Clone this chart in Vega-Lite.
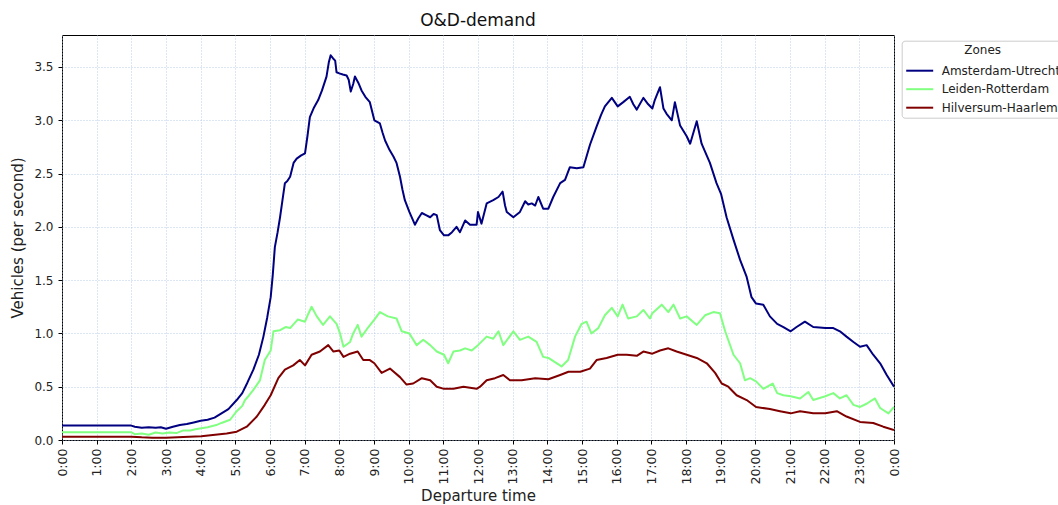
{
  "$schema": "https://vega.github.io/schema/vega-lite/v6.json",
  "width": 832,
  "height": 405,
  "autosize": {"type": "none"},
  "padding": {"left": 62, "top": 35, "right": 164, "bottom": 65},
  "background": "white",
  "config": {
    "font": "DejaVu Sans",
    "view": {"stroke": "#000000", "strokeWidth": 1},
    "axis": {
      "domain": false,
      "tickColor": "#000000",
      "tickSize": 4,
      "labelColor": "#222222",
      "titleColor": "#222222",
      "labelFontSize": 12,
      "titleFontSize": 15,
      "titleFontWeight": "normal",
      "grid": true,
      "gridColor": "#a9bfe3",
      "gridDash": [1, 2],
      "gridWidth": 0.8
    }
  },
  "title": {"text": "O&D-demand", "fontSize": 17, "fontWeight": "normal", "color": "#111111", "anchor": "middle", "offset": 5},
  "data": {"values": [
    {"h":0,"v":0.135,"z":"Amsterdam-Utrecht"},{"h":2.0,"v":0.135,"z":"Amsterdam-Utrecht"},{"h":2.1,"v":0.125,"z":"Amsterdam-Utrecht"},{"h":2.3,"v":0.115,"z":"Amsterdam-Utrecht"},{"h":2.5,"v":0.12,"z":"Amsterdam-Utrecht"},{"h":2.7,"v":0.115,"z":"Amsterdam-Utrecht"},{"h":2.85,"v":0.12,"z":"Amsterdam-Utrecht"},{"h":3.0,"v":0.105,"z":"Amsterdam-Utrecht"},{"h":3.2,"v":0.125,"z":"Amsterdam-Utrecht"},{"h":3.4,"v":0.14,"z":"Amsterdam-Utrecht"},{"h":3.6,"v":0.15,"z":"Amsterdam-Utrecht"},{"h":3.8,"v":0.165,"z":"Amsterdam-Utrecht"},{"h":4.0,"v":0.18,"z":"Amsterdam-Utrecht"},{"h":4.2,"v":0.19,"z":"Amsterdam-Utrecht"},{"h":4.4,"v":0.21,"z":"Amsterdam-Utrecht"},{"h":4.6,"v":0.25,"z":"Amsterdam-Utrecht"},{"h":4.8,"v":0.29,"z":"Amsterdam-Utrecht"},{"h":5.04,"v":0.375,"z":"Amsterdam-Utrecht"},{"h":5.2,"v":0.44,"z":"Amsterdam-Utrecht"},{"h":5.35,"v":0.54,"z":"Amsterdam-Utrecht"},{"h":5.52,"v":0.66,"z":"Amsterdam-Utrecht"},{"h":5.68,"v":0.8,"z":"Amsterdam-Utrecht"},{"h":5.81,"v":0.97,"z":"Amsterdam-Utrecht"},{"h":5.92,"v":1.15,"z":"Amsterdam-Utrecht"},{"h":6.02,"v":1.34,"z":"Amsterdam-Utrecht"},{"h":6.08,"v":1.55,"z":"Amsterdam-Utrecht"},{"h":6.14,"v":1.81,"z":"Amsterdam-Utrecht"},{"h":6.22,"v":1.95,"z":"Amsterdam-Utrecht"},{"h":6.29,"v":2.09,"z":"Amsterdam-Utrecht"},{"h":6.36,"v":2.25,"z":"Amsterdam-Utrecht"},{"h":6.43,"v":2.41,"z":"Amsterdam-Utrecht"},{"h":6.5,"v":2.43,"z":"Amsterdam-Utrecht"},{"h":6.58,"v":2.47,"z":"Amsterdam-Utrecht"},{"h":6.68,"v":2.6,"z":"Amsterdam-Utrecht"},{"h":6.77,"v":2.64,"z":"Amsterdam-Utrecht"},{"h":6.9,"v":2.67,"z":"Amsterdam-Utrecht"},{"h":7.01,"v":2.69,"z":"Amsterdam-Utrecht"},{"h":7.08,"v":2.85,"z":"Amsterdam-Utrecht"},{"h":7.15,"v":3.03,"z":"Amsterdam-Utrecht"},{"h":7.27,"v":3.12,"z":"Amsterdam-Utrecht"},{"h":7.39,"v":3.19,"z":"Amsterdam-Utrecht"},{"h":7.5,"v":3.28,"z":"Amsterdam-Utrecht"},{"h":7.63,"v":3.41,"z":"Amsterdam-Utrecht"},{"h":7.7,"v":3.55,"z":"Amsterdam-Utrecht"},{"h":7.75,"v":3.61,"z":"Amsterdam-Utrecht"},{"h":7.82,"v":3.58,"z":"Amsterdam-Utrecht"},{"h":7.88,"v":3.56,"z":"Amsterdam-Utrecht"},{"h":7.92,"v":3.45,"z":"Amsterdam-Utrecht"},{"h":8.0,"v":3.44,"z":"Amsterdam-Utrecht"},{"h":8.1,"v":3.43,"z":"Amsterdam-Utrecht"},{"h":8.21,"v":3.42,"z":"Amsterdam-Utrecht"},{"h":8.27,"v":3.38,"z":"Amsterdam-Utrecht"},{"h":8.33,"v":3.27,"z":"Amsterdam-Utrecht"},{"h":8.4,"v":3.34,"z":"Amsterdam-Utrecht"},{"h":8.45,"v":3.41,"z":"Amsterdam-Utrecht"},{"h":8.55,"v":3.35,"z":"Amsterdam-Utrecht"},{"h":8.64,"v":3.28,"z":"Amsterdam-Utrecht"},{"h":8.75,"v":3.22,"z":"Amsterdam-Utrecht"},{"h":8.88,"v":3.17,"z":"Amsterdam-Utrecht"},{"h":9.01,"v":3.0,"z":"Amsterdam-Utrecht"},{"h":9.17,"v":2.97,"z":"Amsterdam-Utrecht"},{"h":9.25,"v":2.88,"z":"Amsterdam-Utrecht"},{"h":9.32,"v":2.81,"z":"Amsterdam-Utrecht"},{"h":9.45,"v":2.72,"z":"Amsterdam-Utrecht"},{"h":9.56,"v":2.66,"z":"Amsterdam-Utrecht"},{"h":9.65,"v":2.6,"z":"Amsterdam-Utrecht"},{"h":9.75,"v":2.47,"z":"Amsterdam-Utrecht"},{"h":9.82,"v":2.35,"z":"Amsterdam-Utrecht"},{"h":9.89,"v":2.25,"z":"Amsterdam-Utrecht"},{"h":10.02,"v":2.14,"z":"Amsterdam-Utrecht"},{"h":10.18,"v":2.02,"z":"Amsterdam-Utrecht"},{"h":10.28,"v":2.08,"z":"Amsterdam-Utrecht"},{"h":10.38,"v":2.13,"z":"Amsterdam-Utrecht"},{"h":10.5,"v":2.11,"z":"Amsterdam-Utrecht"},{"h":10.62,"v":2.09,"z":"Amsterdam-Utrecht"},{"h":10.72,"v":2.12,"z":"Amsterdam-Utrecht"},{"h":10.81,"v":2.11,"z":"Amsterdam-Utrecht"},{"h":10.9,"v":1.97,"z":"Amsterdam-Utrecht"},{"h":11.02,"v":1.92,"z":"Amsterdam-Utrecht"},{"h":11.14,"v":1.92,"z":"Amsterdam-Utrecht"},{"h":11.25,"v":1.95,"z":"Amsterdam-Utrecht"},{"h":11.38,"v":2.0,"z":"Amsterdam-Utrecht"},{"h":11.48,"v":1.95,"z":"Amsterdam-Utrecht"},{"h":11.63,"v":2.06,"z":"Amsterdam-Utrecht"},{"h":11.77,"v":2.02,"z":"Amsterdam-Utrecht"},{"h":11.96,"v":2.02,"z":"Amsterdam-Utrecht"},{"h":12.0,"v":2.14,"z":"Amsterdam-Utrecht"},{"h":12.1,"v":2.03,"z":"Amsterdam-Utrecht"},{"h":12.25,"v":2.22,"z":"Amsterdam-Utrecht"},{"h":12.44,"v":2.25,"z":"Amsterdam-Utrecht"},{"h":12.59,"v":2.28,"z":"Amsterdam-Utrecht"},{"h":12.71,"v":2.33,"z":"Amsterdam-Utrecht"},{"h":12.78,"v":2.2,"z":"Amsterdam-Utrecht"},{"h":12.83,"v":2.14,"z":"Amsterdam-Utrecht"},{"h":13.02,"v":2.09,"z":"Amsterdam-Utrecht"},{"h":13.21,"v":2.14,"z":"Amsterdam-Utrecht"},{"h":13.36,"v":2.24,"z":"Amsterdam-Utrecht"},{"h":13.45,"v":2.21,"z":"Amsterdam-Utrecht"},{"h":13.55,"v":2.22,"z":"Amsterdam-Utrecht"},{"h":13.65,"v":2.2,"z":"Amsterdam-Utrecht"},{"h":13.74,"v":2.28,"z":"Amsterdam-Utrecht"},{"h":13.88,"v":2.17,"z":"Amsterdam-Utrecht"},{"h":14.03,"v":2.17,"z":"Amsterdam-Utrecht"},{"h":14.17,"v":2.28,"z":"Amsterdam-Utrecht"},{"h":14.37,"v":2.41,"z":"Amsterdam-Utrecht"},{"h":14.51,"v":2.44,"z":"Amsterdam-Utrecht"},{"h":14.65,"v":2.56,"z":"Amsterdam-Utrecht"},{"h":14.85,"v":2.55,"z":"Amsterdam-Utrecht"},{"h":15.04,"v":2.56,"z":"Amsterdam-Utrecht"},{"h":15.23,"v":2.77,"z":"Amsterdam-Utrecht"},{"h":15.42,"v":2.94,"z":"Amsterdam-Utrecht"},{"h":15.55,"v":3.05,"z":"Amsterdam-Utrecht"},{"h":15.66,"v":3.13,"z":"Amsterdam-Utrecht"},{"h":15.86,"v":3.21,"z":"Amsterdam-Utrecht"},{"h":16.03,"v":3.13,"z":"Amsterdam-Utrecht"},{"h":16.19,"v":3.17,"z":"Amsterdam-Utrecht"},{"h":16.38,"v":3.22,"z":"Amsterdam-Utrecht"},{"h":16.48,"v":3.15,"z":"Amsterdam-Utrecht"},{"h":16.58,"v":3.1,"z":"Amsterdam-Utrecht"},{"h":16.77,"v":3.21,"z":"Amsterdam-Utrecht"},{"h":16.91,"v":3.15,"z":"Amsterdam-Utrecht"},{"h":17.03,"v":3.11,"z":"Amsterdam-Utrecht"},{"h":17.1,"v":3.19,"z":"Amsterdam-Utrecht"},{"h":17.25,"v":3.31,"z":"Amsterdam-Utrecht"},{"h":17.35,"v":3.11,"z":"Amsterdam-Utrecht"},{"h":17.44,"v":3.06,"z":"Amsterdam-Utrecht"},{"h":17.59,"v":3.0,"z":"Amsterdam-Utrecht"},{"h":17.68,"v":3.17,"z":"Amsterdam-Utrecht"},{"h":17.83,"v":2.95,"z":"Amsterdam-Utrecht"},{"h":18.02,"v":2.85,"z":"Amsterdam-Utrecht"},{"h":18.12,"v":2.78,"z":"Amsterdam-Utrecht"},{"h":18.31,"v":2.99,"z":"Amsterdam-Utrecht"},{"h":18.45,"v":2.78,"z":"Amsterdam-Utrecht"},{"h":18.69,"v":2.6,"z":"Amsterdam-Utrecht"},{"h":18.88,"v":2.41,"z":"Amsterdam-Utrecht"},{"h":19.01,"v":2.31,"z":"Amsterdam-Utrecht"},{"h":19.17,"v":2.09,"z":"Amsterdam-Utrecht"},{"h":19.37,"v":1.88,"z":"Amsterdam-Utrecht"},{"h":19.56,"v":1.69,"z":"Amsterdam-Utrecht"},{"h":19.75,"v":1.53,"z":"Amsterdam-Utrecht"},{"h":19.89,"v":1.34,"z":"Amsterdam-Utrecht"},{"h":20.02,"v":1.28,"z":"Amsterdam-Utrecht"},{"h":20.23,"v":1.27,"z":"Amsterdam-Utrecht"},{"h":20.42,"v":1.16,"z":"Amsterdam-Utrecht"},{"h":20.63,"v":1.09,"z":"Amsterdam-Utrecht"},{"h":20.81,"v":1.06,"z":"Amsterdam-Utrecht"},{"h":21.02,"v":1.02,"z":"Amsterdam-Utrecht"},{"h":21.19,"v":1.06,"z":"Amsterdam-Utrecht"},{"h":21.43,"v":1.11,"z":"Amsterdam-Utrecht"},{"h":21.67,"v":1.06,"z":"Amsterdam-Utrecht"},{"h":22.02,"v":1.05,"z":"Amsterdam-Utrecht"},{"h":22.25,"v":1.05,"z":"Amsterdam-Utrecht"},{"h":22.44,"v":1.02,"z":"Amsterdam-Utrecht"},{"h":22.63,"v":0.97,"z":"Amsterdam-Utrecht"},{"h":22.83,"v":0.92,"z":"Amsterdam-Utrecht"},{"h":23.02,"v":0.875,"z":"Amsterdam-Utrecht"},{"h":23.21,"v":0.89,"z":"Amsterdam-Utrecht"},{"h":23.4,"v":0.8,"z":"Amsterdam-Utrecht"},{"h":23.6,"v":0.72,"z":"Amsterdam-Utrecht"},{"h":23.79,"v":0.61,"z":"Amsterdam-Utrecht"},{"h":24.0,"v":0.5,"z":"Amsterdam-Utrecht"},

    {"h":0,"v":0.072,"z":"Leiden-Rotterdam"},{"h":2.0,"v":0.072,"z":"Leiden-Rotterdam"},{"h":2.1,"v":0.055,"z":"Leiden-Rotterdam"},{"h":2.3,"v":0.06,"z":"Leiden-Rotterdam"},{"h":2.5,"v":0.05,"z":"Leiden-Rotterdam"},{"h":2.7,"v":0.07,"z":"Leiden-Rotterdam"},{"h":2.9,"v":0.06,"z":"Leiden-Rotterdam"},{"h":3.1,"v":0.07,"z":"Leiden-Rotterdam"},{"h":3.3,"v":0.065,"z":"Leiden-Rotterdam"},{"h":3.5,"v":0.09,"z":"Leiden-Rotterdam"},{"h":3.7,"v":0.09,"z":"Leiden-Rotterdam"},{"h":3.85,"v":0.1,"z":"Leiden-Rotterdam"},{"h":4.02,"v":0.11,"z":"Leiden-Rotterdam"},{"h":4.2,"v":0.12,"z":"Leiden-Rotterdam"},{"h":4.45,"v":0.14,"z":"Leiden-Rotterdam"},{"h":4.6,"v":0.16,"z":"Leiden-Rotterdam"},{"h":4.85,"v":0.19,"z":"Leiden-Rotterdam"},{"h":5.04,"v":0.27,"z":"Leiden-Rotterdam"},{"h":5.2,"v":0.32,"z":"Leiden-Rotterdam"},{"h":5.28,"v":0.375,"z":"Leiden-Rotterdam"},{"h":5.4,"v":0.42,"z":"Leiden-Rotterdam"},{"h":5.52,"v":0.47,"z":"Leiden-Rotterdam"},{"h":5.71,"v":0.56,"z":"Leiden-Rotterdam"},{"h":5.85,"v":0.75,"z":"Leiden-Rotterdam"},{"h":6.02,"v":0.84,"z":"Leiden-Rotterdam"},{"h":6.1,"v":1.02,"z":"Leiden-Rotterdam"},{"h":6.29,"v":1.03,"z":"Leiden-Rotterdam"},{"h":6.45,"v":1.06,"z":"Leiden-Rotterdam"},{"h":6.58,"v":1.05,"z":"Leiden-Rotterdam"},{"h":6.8,"v":1.13,"z":"Leiden-Rotterdam"},{"h":7.01,"v":1.11,"z":"Leiden-Rotterdam"},{"h":7.1,"v":1.18,"z":"Leiden-Rotterdam"},{"h":7.2,"v":1.25,"z":"Leiden-Rotterdam"},{"h":7.35,"v":1.16,"z":"Leiden-Rotterdam"},{"h":7.53,"v":1.08,"z":"Leiden-Rotterdam"},{"h":7.73,"v":1.16,"z":"Leiden-Rotterdam"},{"h":7.92,"v":1.09,"z":"Leiden-Rotterdam"},{"h":8.02,"v":1.0,"z":"Leiden-Rotterdam"},{"h":8.12,"v":0.875,"z":"Leiden-Rotterdam"},{"h":8.31,"v":0.92,"z":"Leiden-Rotterdam"},{"h":8.4,"v":1.0,"z":"Leiden-Rotterdam"},{"h":8.53,"v":1.08,"z":"Leiden-Rotterdam"},{"h":8.64,"v":0.97,"z":"Leiden-Rotterdam"},{"h":8.84,"v":1.06,"z":"Leiden-Rotterdam"},{"h":9.01,"v":1.13,"z":"Leiden-Rotterdam"},{"h":9.17,"v":1.2,"z":"Leiden-Rotterdam"},{"h":9.4,"v":1.16,"z":"Leiden-Rotterdam"},{"h":9.65,"v":1.14,"z":"Leiden-Rotterdam"},{"h":9.8,"v":1.02,"z":"Leiden-Rotterdam"},{"h":10.02,"v":1.0,"z":"Leiden-Rotterdam"},{"h":10.23,"v":0.89,"z":"Leiden-Rotterdam"},{"h":10.42,"v":0.94,"z":"Leiden-Rotterdam"},{"h":10.62,"v":0.89,"z":"Leiden-Rotterdam"},{"h":10.81,"v":0.83,"z":"Leiden-Rotterdam"},{"h":11.02,"v":0.8,"z":"Leiden-Rotterdam"},{"h":11.14,"v":0.72,"z":"Leiden-Rotterdam"},{"h":11.29,"v":0.83,"z":"Leiden-Rotterdam"},{"h":11.48,"v":0.84,"z":"Leiden-Rotterdam"},{"h":11.63,"v":0.86,"z":"Leiden-Rotterdam"},{"h":11.82,"v":0.84,"z":"Leiden-Rotterdam"},{"h":12.0,"v":0.89,"z":"Leiden-Rotterdam"},{"h":12.25,"v":0.97,"z":"Leiden-Rotterdam"},{"h":12.44,"v":0.95,"z":"Leiden-Rotterdam"},{"h":12.59,"v":1.02,"z":"Leiden-Rotterdam"},{"h":12.73,"v":0.89,"z":"Leiden-Rotterdam"},{"h":13.02,"v":1.02,"z":"Leiden-Rotterdam"},{"h":13.21,"v":0.94,"z":"Leiden-Rotterdam"},{"h":13.45,"v":0.97,"z":"Leiden-Rotterdam"},{"h":13.69,"v":0.92,"z":"Leiden-Rotterdam"},{"h":13.88,"v":0.78,"z":"Leiden-Rotterdam"},{"h":14.03,"v":0.77,"z":"Leiden-Rotterdam"},{"h":14.22,"v":0.73,"z":"Leiden-Rotterdam"},{"h":14.41,"v":0.69,"z":"Leiden-Rotterdam"},{"h":14.6,"v":0.75,"z":"Leiden-Rotterdam"},{"h":14.8,"v":0.97,"z":"Leiden-Rotterdam"},{"h":14.99,"v":1.09,"z":"Leiden-Rotterdam"},{"h":15.13,"v":1.11,"z":"Leiden-Rotterdam"},{"h":15.27,"v":1.0,"z":"Leiden-Rotterdam"},{"h":15.47,"v":1.05,"z":"Leiden-Rotterdam"},{"h":15.66,"v":1.17,"z":"Leiden-Rotterdam"},{"h":15.86,"v":1.24,"z":"Leiden-Rotterdam"},{"h":16.03,"v":1.16,"z":"Leiden-Rotterdam"},{"h":16.17,"v":1.27,"z":"Leiden-Rotterdam"},{"h":16.33,"v":1.14,"z":"Leiden-Rotterdam"},{"h":16.58,"v":1.16,"z":"Leiden-Rotterdam"},{"h":16.77,"v":1.22,"z":"Leiden-Rotterdam"},{"h":16.96,"v":1.14,"z":"Leiden-Rotterdam"},{"h":17.03,"v":1.19,"z":"Leiden-Rotterdam"},{"h":17.3,"v":1.27,"z":"Leiden-Rotterdam"},{"h":17.49,"v":1.2,"z":"Leiden-Rotterdam"},{"h":17.64,"v":1.27,"z":"Leiden-Rotterdam"},{"h":17.83,"v":1.14,"z":"Leiden-Rotterdam"},{"h":18.02,"v":1.16,"z":"Leiden-Rotterdam"},{"h":18.31,"v":1.08,"z":"Leiden-Rotterdam"},{"h":18.55,"v":1.17,"z":"Leiden-Rotterdam"},{"h":18.79,"v":1.2,"z":"Leiden-Rotterdam"},{"h":18.98,"v":1.19,"z":"Leiden-Rotterdam"},{"h":19.13,"v":1.02,"z":"Leiden-Rotterdam"},{"h":19.37,"v":0.8,"z":"Leiden-Rotterdam"},{"h":19.56,"v":0.72,"z":"Leiden-Rotterdam"},{"h":19.7,"v":0.56,"z":"Leiden-Rotterdam"},{"h":19.85,"v":0.58,"z":"Leiden-Rotterdam"},{"h":20.02,"v":0.55,"z":"Leiden-Rotterdam"},{"h":20.23,"v":0.48,"z":"Leiden-Rotterdam"},{"h":20.5,"v":0.53,"z":"Leiden-Rotterdam"},{"h":20.63,"v":0.44,"z":"Leiden-Rotterdam"},{"h":20.81,"v":0.42,"z":"Leiden-Rotterdam"},{"h":21.02,"v":0.41,"z":"Leiden-Rotterdam"},{"h":21.29,"v":0.39,"z":"Leiden-Rotterdam"},{"h":21.53,"v":0.45,"z":"Leiden-Rotterdam"},{"h":21.67,"v":0.375,"z":"Leiden-Rotterdam"},{"h":22.02,"v":0.41,"z":"Leiden-Rotterdam"},{"h":22.25,"v":0.44,"z":"Leiden-Rotterdam"},{"h":22.44,"v":0.39,"z":"Leiden-Rotterdam"},{"h":22.63,"v":0.42,"z":"Leiden-Rotterdam"},{"h":22.83,"v":0.33,"z":"Leiden-Rotterdam"},{"h":23.02,"v":0.31,"z":"Leiden-Rotterdam"},{"h":23.21,"v":0.34,"z":"Leiden-Rotterdam"},{"h":23.45,"v":0.39,"z":"Leiden-Rotterdam"},{"h":23.6,"v":0.3,"z":"Leiden-Rotterdam"},{"h":23.84,"v":0.25,"z":"Leiden-Rotterdam"},{"h":24.0,"v":0.31,"z":"Leiden-Rotterdam"},

    {"h":0,"v":0.031,"z":"Hilversum-Haarlem"},{"h":2.0,"v":0.031,"z":"Hilversum-Haarlem"},{"h":2.3,"v":0.025,"z":"Hilversum-Haarlem"},{"h":2.6,"v":0.022,"z":"Hilversum-Haarlem"},{"h":3.0,"v":0.02,"z":"Hilversum-Haarlem"},{"h":3.5,"v":0.028,"z":"Hilversum-Haarlem"},{"h":4.02,"v":0.035,"z":"Hilversum-Haarlem"},{"h":4.75,"v":0.06,"z":"Hilversum-Haarlem"},{"h":5.04,"v":0.078,"z":"Hilversum-Haarlem"},{"h":5.33,"v":0.125,"z":"Hilversum-Haarlem"},{"h":5.62,"v":0.22,"z":"Hilversum-Haarlem"},{"h":5.85,"v":0.33,"z":"Hilversum-Haarlem"},{"h":6.02,"v":0.42,"z":"Hilversum-Haarlem"},{"h":6.24,"v":0.58,"z":"Hilversum-Haarlem"},{"h":6.43,"v":0.66,"z":"Hilversum-Haarlem"},{"h":6.67,"v":0.7,"z":"Hilversum-Haarlem"},{"h":6.86,"v":0.75,"z":"Hilversum-Haarlem"},{"h":7.01,"v":0.7,"z":"Hilversum-Haarlem"},{"h":7.2,"v":0.8,"z":"Hilversum-Haarlem"},{"h":7.44,"v":0.83,"z":"Hilversum-Haarlem"},{"h":7.68,"v":0.89,"z":"Hilversum-Haarlem"},{"h":7.83,"v":0.83,"z":"Hilversum-Haarlem"},{"h":8.0,"v":0.84,"z":"Hilversum-Haarlem"},{"h":8.12,"v":0.78,"z":"Hilversum-Haarlem"},{"h":8.31,"v":0.81,"z":"Hilversum-Haarlem"},{"h":8.53,"v":0.83,"z":"Hilversum-Haarlem"},{"h":8.69,"v":0.75,"z":"Hilversum-Haarlem"},{"h":8.88,"v":0.75,"z":"Hilversum-Haarlem"},{"h":9.01,"v":0.72,"z":"Hilversum-Haarlem"},{"h":9.22,"v":0.63,"z":"Hilversum-Haarlem"},{"h":9.46,"v":0.67,"z":"Hilversum-Haarlem"},{"h":9.75,"v":0.59,"z":"Hilversum-Haarlem"},{"h":9.94,"v":0.52,"z":"Hilversum-Haarlem"},{"h":10.13,"v":0.53,"z":"Hilversum-Haarlem"},{"h":10.38,"v":0.58,"z":"Hilversum-Haarlem"},{"h":10.62,"v":0.56,"z":"Hilversum-Haarlem"},{"h":10.81,"v":0.5,"z":"Hilversum-Haarlem"},{"h":11.02,"v":0.48,"z":"Hilversum-Haarlem"},{"h":11.29,"v":0.48,"z":"Hilversum-Haarlem"},{"h":11.58,"v":0.5,"z":"Hilversum-Haarlem"},{"h":11.96,"v":0.48,"z":"Hilversum-Haarlem"},{"h":12.06,"v":0.5,"z":"Hilversum-Haarlem"},{"h":12.25,"v":0.56,"z":"Hilversum-Haarlem"},{"h":12.49,"v":0.58,"z":"Hilversum-Haarlem"},{"h":12.73,"v":0.61,"z":"Hilversum-Haarlem"},{"h":12.92,"v":0.56,"z":"Hilversum-Haarlem"},{"h":13.26,"v":0.56,"z":"Hilversum-Haarlem"},{"h":13.65,"v":0.58,"z":"Hilversum-Haarlem"},{"h":14.03,"v":0.57,"z":"Hilversum-Haarlem"},{"h":14.37,"v":0.61,"z":"Hilversum-Haarlem"},{"h":14.61,"v":0.64,"z":"Hilversum-Haarlem"},{"h":14.95,"v":0.64,"z":"Hilversum-Haarlem"},{"h":15.23,"v":0.67,"z":"Hilversum-Haarlem"},{"h":15.42,"v":0.75,"z":"Hilversum-Haarlem"},{"h":15.71,"v":0.77,"z":"Hilversum-Haarlem"},{"h":16.03,"v":0.8,"z":"Hilversum-Haarlem"},{"h":16.29,"v":0.8,"z":"Hilversum-Haarlem"},{"h":16.58,"v":0.79,"z":"Hilversum-Haarlem"},{"h":16.77,"v":0.83,"z":"Hilversum-Haarlem"},{"h":17.03,"v":0.81,"z":"Hilversum-Haarlem"},{"h":17.25,"v":0.84,"z":"Hilversum-Haarlem"},{"h":17.49,"v":0.86,"z":"Hilversum-Haarlem"},{"h":17.73,"v":0.83,"z":"Hilversum-Haarlem"},{"h":18.02,"v":0.8,"z":"Hilversum-Haarlem"},{"h":18.31,"v":0.77,"z":"Hilversum-Haarlem"},{"h":18.6,"v":0.72,"z":"Hilversum-Haarlem"},{"h":18.84,"v":0.63,"z":"Hilversum-Haarlem"},{"h":19.03,"v":0.53,"z":"Hilversum-Haarlem"},{"h":19.22,"v":0.5,"z":"Hilversum-Haarlem"},{"h":19.46,"v":0.42,"z":"Hilversum-Haarlem"},{"h":19.75,"v":0.375,"z":"Hilversum-Haarlem"},{"h":20.02,"v":0.31,"z":"Hilversum-Haarlem"},{"h":20.42,"v":0.29,"z":"Hilversum-Haarlem"},{"h":20.71,"v":0.27,"z":"Hilversum-Haarlem"},{"h":21.02,"v":0.25,"z":"Hilversum-Haarlem"},{"h":21.29,"v":0.27,"z":"Hilversum-Haarlem"},{"h":21.67,"v":0.25,"z":"Hilversum-Haarlem"},{"h":22.02,"v":0.25,"z":"Hilversum-Haarlem"},{"h":22.35,"v":0.27,"z":"Hilversum-Haarlem"},{"h":22.63,"v":0.22,"z":"Hilversum-Haarlem"},{"h":23.02,"v":0.17,"z":"Hilversum-Haarlem"},{"h":23.4,"v":0.16,"z":"Hilversum-Haarlem"},{"h":23.69,"v":0.125,"z":"Hilversum-Haarlem"},{"h":24.0,"v":0.094,"z":"Hilversum-Haarlem"}
  ]},
  "mark": {"type": "line", "strokeWidth": 2, "strokeJoin": "round", "clip": true},
  "encoding": {
    "x": {
      "field": "h", "type": "quantitative",
      "scale": {"domain": [0, 24], "nice": false, "zero": false},
      "axis": {
        "values": [0,1,2,3,4,5,6,7,8,9,10,11,12,13,14,15,16,17,18,19,20,21,22,23,24],
        "labelExpr": "(datum.value % 24) + ':00'",
        "labelAngle": -90,
        "labelPadding": 4,
        "labelFontSize": 12.5,
        "title": "Departure time",
        "titlePadding": 4.5
      }
    },
    "y": {
      "field": "v", "type": "quantitative",
      "scale": {"domain": [0, 3.8], "nice": false},
      "axis": {
        "values": [0, 0.5, 1, 1.5, 2, 2.5, 3, 3.5],
        "format": ".1f",
        "labelPadding": 5,
        "title": "Vehicles (per second)",
        "titlePadding": 8
      }
    },
    "color": {
      "field": "z", "type": "nominal",
      "scale": {
        "domain": ["Amsterdam-Utrecht", "Leiden-Rotterdam", "Hilversum-Haarlem"],
        "range": ["#000080", "#80ff80", "#800000"]
      },
      "legend": {
        "title": "Zones",
        "orient": "none",
        "legendX": 839.7,
        "legendY": 5.7,
        "titleFontSize": 12,
        "titleFontWeight": "normal",
        "titleColor": "#222222",
        "titleAnchor": "middle",
        "titlePadding": 4,
        "labelFontSize": 12,
        "labelColor": "#222222",
        "strokeColor": "#cccccc",
        "fillColor": "#ffffff",
        "cornerRadius": 3,
        "padding": 4,
        "symbolType": "M-1.5,0H1.5",
        "symbolSize": 324,
        "symbolStrokeWidth": 2,
        "symbolOffset": 4,
        "rowPadding": 2.5,
        "labelOffset": 12
      }
    }
  }
}
